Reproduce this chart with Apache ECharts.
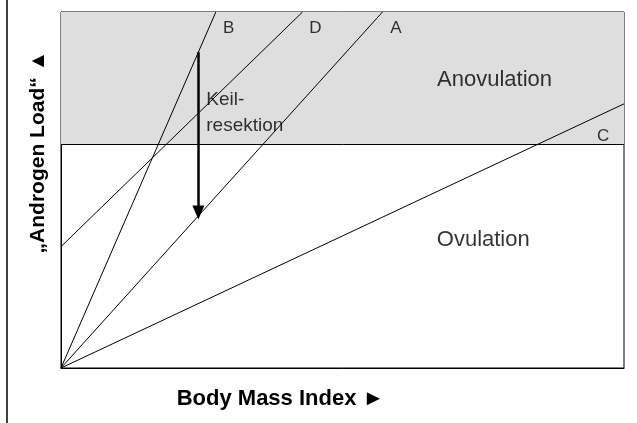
<!DOCTYPE html>
<html>
<head>
<meta charset="utf-8">
<script src="https://cdn.jsdelivr.net/npm/echarts@6/dist/echarts.min.js"></script>
<style>
html, body { margin: 0; padding: 0; background: #fff; }
#main { width: 637px; height: 423px; }
</style>
</head>
<body>
<div id="main"></div>
<script>
var dom = document.getElementById("main");
var myChart = echarts.init(dom);

// lines, [x, y] in arbitrary units 0..10
var lineB = [[0, 0], [2.75, 10]];
var lineD = [[0, 3.41], [4.29, 10]];
var lineA = [[0, 0], [5.71, 10]];
var lineC = [[0, 0], [10, 7.42]];
// threshold between ovulation / anovulation
var threshold = 6.29;
// Keilresektion arrow
var arrowFrom = [2.44, 8.87];
var arrowTo = [2.44, 4.37];
// text labels
var lineLabels = [['B', 2.98, 9.55], ['D', 4.52, 9.55], ['A', 5.95, 9.55], ['C', 9.63, 6.5]];
var zoneLabels = [['Anovulation', 7.7, 8.1], ['Ovulation', 7.5, 3.6]];

function lineSeries(d) {
    return {
        type: 'line',
        data: d,
        symbol: 'none',
        silent: true,
        lineStyle: { color: '#000', width: 1 }
    };
}

option = {
    animation: false,
    grid: {
        left: 61,
        right: 13,
        top: 12,
        bottom: 55,
        show: true,
        borderColor: '#000',
        borderWidth: 1
    },
    xAxis: {
        type: 'value',
        min: 0,
        max: 10,
        axisLine: { lineStyle: { color: '#000' } },
        axisTick: { show: false },
        axisLabel: { show: false },
        splitLine: { show: false },
        name: 'Body Mass Index \u25BA',
        nameLocation: 'middle',
        nameGap: 20,
        nameTextStyle: { fontFamily: 'Liberation Sans', fontWeight: 'bold', fontSize: 22, color: '#000', padding: [0, 124, 0, 0] }
    },
    yAxis: {
        type: 'value',
        min: 0,
        max: 10,
        axisLine: { lineStyle: { color: '#000' } },
        axisTick: { show: false },
        axisLabel: { show: false },
        splitLine: { show: false },
        name: '\u201EAndrogen Load\u201C \u25B2',
        nameLocation: 'middle',
        nameGap: 12,
        nameTextStyle: { fontFamily: 'Liberation Sans', fontWeight: 'bold', fontSize: 21, color: '#000', padding: [0, 0, 0, 76] }
    },
    graphic: [{
        type: 'line',
        shape: { x1: 7, y1: 0, x2: 7, y2: 423 },
        style: { stroke: '#000', lineWidth: 1.5 }
    }],
    series: [
        {
            type: 'line',
            data: [],
            markArea: {
                silent: true,
                itemStyle: { color: '#dedede' },
                data: [[{ yAxis: threshold }, { yAxis: 10 }]]
            },
            markLine: {
                silent: true,
                symbol: 'none',
                label: { show: false },
                lineStyle: { color: '#000', width: 1, type: 'solid' },
                data: [{ yAxis: threshold }]
            }
        },
        lineSeries(lineB),
        lineSeries(lineD),
        lineSeries(lineA),
        lineSeries(lineC),
        {
            type: 'line',
            data: [],
            markLine: {
                silent: true,
                symbol: ['none', 'triangle'],
                symbolSize: [12, 14],
                label: { show: false },
                lineStyle: { color: '#000', width: 2.5, type: 'solid' },
                data: [[{ coord: arrowFrom }, { coord: arrowTo }]]
            }
        },
        {
            type: 'scatter',
            symbolSize: 0,
            silent: true,
            data: lineLabels.map(function (l) { return { value: [l[1], l[2]], name: l[0] }; }),
            label: {
                show: true,
                position: 'inside',
                formatter: '{b}',
                fontFamily: 'Liberation Sans',
                fontSize: 17,
                color: '#000'
            }
        },
        {
            type: 'scatter',
            symbolSize: 0,
            silent: true,
            data: zoneLabels.map(function (l) { return { value: [l[1], l[2]], name: l[0] }; }),
            label: {
                show: true,
                position: 'inside',
                formatter: '{b}',
                fontFamily: 'Liberation Sans',
                fontSize: 22,
                color: '#000'
            }
        },
        {
            type: 'scatter',
            symbolSize: 0,
            silent: true,
            data: [{ value: [2.58, 7.17], name: 'Keil-\nresektion' }],
            label: {
                show: true,
                position: 'right',
                distance: 0,
                align: 'left',
                formatter: '{b}',
                fontFamily: 'Liberation Sans',
                fontSize: 19,
                lineHeight: 26,
                color: '#000'
            }
        }
    ]
};
if (option && typeof option === "object") {
    myChart.setOption(option, true);
}
</script>
</body>
</html>
